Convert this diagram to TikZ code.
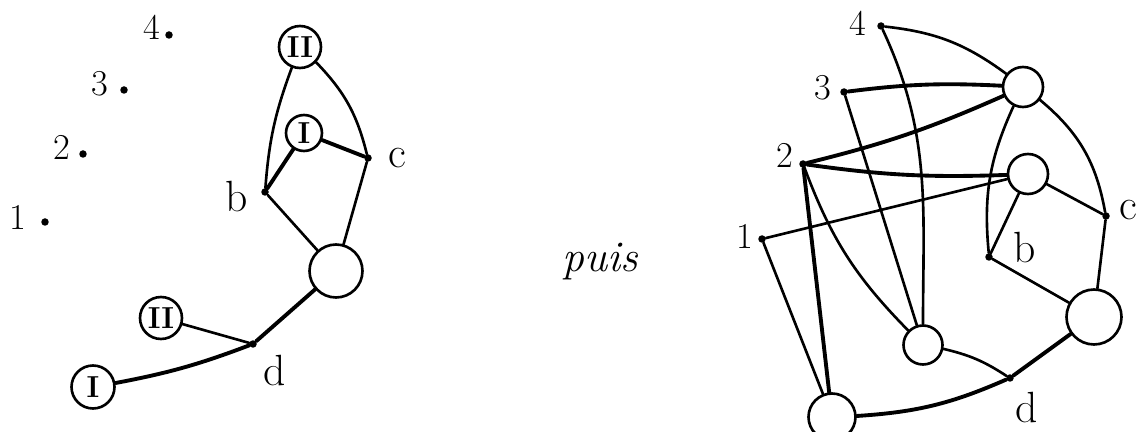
\documentclass[tikz,border=0pt]{standalone}
\usepackage{tikz}

\begin{document}
\begin{tikzpicture}[x=0.02cm, y=-0.02cm,
    vtx/.style={circle, fill, inner sep=0pt, minimum size=0.15cm},
    ring/.style={circle, draw, line width=1.5pt, inner sep=0pt, minimum size=0.8cm, font=\LARGE\bfseries},
    wire/.style={line width=1.5pt, line cap=round},
    heavy/.style={line width=2.2pt, line cap=round},
    tag/.style={font=\huge}]
	\clip (0,0) rectangle (1140,432);
	% left picture
	\node[vtx] (l1) at (45,222) {};
	\node[vtx] (l2) at (83,154) {};
	\node[vtx] (l3) at (124,90) {};
	\node[vtx] (l4) at (169,35) {};
	\node[tag] (l1t) at (18,217) {1};
	\node[tag] (l2t) at (62,147) {2};
	\node[tag] (l3t) at (100,84) {3};
	\node[tag] (l4t) at (152,27) {4};
	\node[ring, minimum size=0.84cm] (lIIa) at (300,47) {II};
	\node[ring, minimum size=0.72cm] (lIa) at (304,133) {I};
	\node[vtx] (lb) at (265,192) {};
	\node[vtx] (lc) at (368,158) {};
	\node[ring, minimum size=1.06cm] (lo) at (336,271) {};
	\node[vtx] (ld) at (253,344) {};
	\node[ring, minimum size=0.84cm] (lIIb) at (161,318) {II};
	\node[ring, minimum size=0.86cm] (lIb) at (93,387) {I};
	\node[tag, font=\Huge] (lbt) at (237,197) {b};
	\node[tag, font=\Huge] (lct) at (397,158) {c};
	\node[tag, font=\Huge] (ldt) at (275,371) {d};
	\draw[wire] (lIIa) to[bend right=8] (lb);
	\draw[wire] (lIIa) to[bend left=15] (lc);
	\draw[heavy] (lIa) -- (lb);
	\draw[heavy] (lIa) -- (lc);
	\draw[wire] (lb) -- (lo);
	\draw[wire] (lc) -- (lo);
	\draw[heavy] (lo) -- (ld);
	\draw[wire] (lIIb) -- (ld);
	\draw[heavy] (lIb) to[bend right=5] (ld);
	% middle
	\node[font=\Huge\itshape] (puis) at (600,262) {puis};
	% right picture
	\node[vtx] (r1) at (762,239) {};
	\node[vtx] (r2) at (803,164) {};
	\node[vtx] (r3) at (844,92) {};
	\node[vtx] (r4) at (881,26) {};
	\node[tag] (r1t) at (745,236) {1};
	\node[tag] (r2t) at (785,155) {2};
	\node[tag] (r3t) at (823,88) {3};
	\node[tag] (r4t) at (858,23) {4};
	\node[ring] (rA) at (1023,87) {};
	\node[ring] (rB) at (1028,174) {};
	\node[vtx] (rc) at (1106,216) {};
	\node[vtx] (rb) at (989,257) {};
	\node[ring, minimum size=1.1cm] (rE) at (1094,317) {};
	\node[vtx] (rd) at (1010,378) {};
	\node[ring, minimum size=0.78cm] (rF) at (923,345) {};
	\node[ring, minimum size=0.94cm] (rG) at (832,417) {};
	\node[tag, font=\Huge] (rbt) at (1025,248) {b};
	\node[tag, font=\Huge] (rct) at (1128,210) {c};
	\node[tag, font=\Huge] (rdt) at (1027,408) {d};
	\draw[wire] (r4) to[bend left=15] (rA);
	\draw[wire] (r4) to[out=-65, in=90] (rF);
	\draw[heavy] (r3) to[bend left=5] (rA);
	\draw[wire] (r3) -- (rF);
	\draw[heavy] (r2) to[bend right=5] (rA);
	\draw[heavy] (r2) to[bend right=5] (rB);
	\draw[wire] (r1) -- (rB);
	\draw[wire] (rA) to[bend right=15] (rb);
	\draw[wire] (rA) to[bend left=20] (rc);
	\draw[wire] (rB) -- (rc);
	\draw[wire] (rB) -- (rb);
	\draw[wire] (rc) -- (rE);
	\draw[wire] (rb) -- (rE);
	\draw[heavy] (rE) -- (rd);
	\draw[wire] (rF) to[bend left=10] (rd);
	\draw[heavy] (rG) to[bend right=10] (rd);
	\draw[heavy] (r2) -- (rG);
	\draw[wire] (r2) to[bend right=12] (rF);
	\draw[wire] (r1) -- (rG);
\end{tikzpicture}
\end{document}
